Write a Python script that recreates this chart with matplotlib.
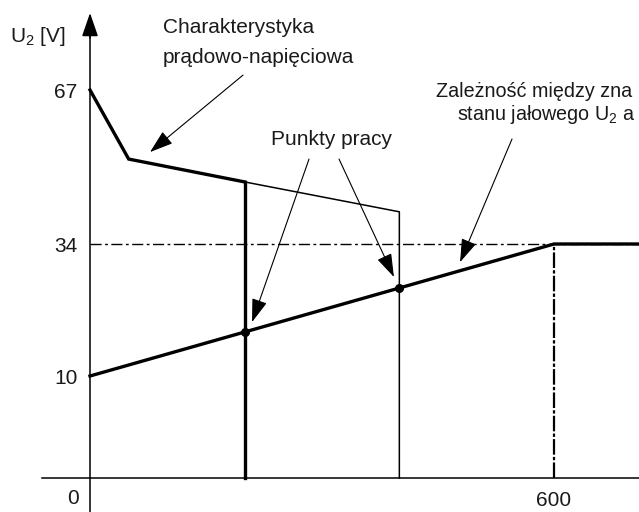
import numpy as np
import matplotlib.pyplot as plt
from matplotlib import font_manager

# charakterystyka pradowo-napieciowa (prad, napiecie)
char_i = [0, 50, 200]
char_u = [67, 52.2, 47.3]
char_thin_i = [200, 400, 400]
char_thin_u = [47.3, 40.9, 0]
char_drop_i = [200, 200]
char_drop_u = [47.3, 0]

# zaleznosc napiecia stanu jalowego U2
load_i = [0, 600, 710]
load_u = [10, 34, 34]

# punkty pracy
work_i = [200, 400]
work_u = [18, 26]

u_ticks = [10, 34, 67]
u_labels = ['10', '34', '67']
i_ticks = [600]
i_labels = ['600']

# os napiecia nie jest liniowa (rysunek schematyczny)
u_knots = [-20, 0, 10, 34, 67, 200]
pos_knots = [-204, 0, 102, 234, 388, 1009]

def fwd(v):
    return np.interp(v, u_knots, pos_knots)

def inv(p):
    return np.interp(p, pos_knots, u_knots)

names = {f.name for f in font_manager.fontManager.ttflist}
if 'Liberation Sans Narrow' in names:
    fam, fs = 'Liberation Sans Narrow', 17.5
else:
    fam, fs = 'Liberation Sans', 15
plt.rcParams['font.family'] = [fam, 'DejaVu Sans']
plt.rcParams['mathtext.fontset'] = 'custom'
plt.rcParams['mathtext.rm'] = fam
plt.rcParams['mathtext.default'] = 'regular'
tc = '#1a1a1a'

fig = plt.figure(figsize=(6.39, 5.12), dpi=100)
ax = fig.add_axes([0, 0, 1, 1])
ax.set_yscale('function', functions=(fwd, inv))
ax.set_xlim(-116.4, 709.9)
ax.set_ylim(inv(-34), inv(478))

for s in ['top', 'right']:
    ax.spines[s].set_visible(False)
ax.spines['left'].set_position(('data', 0))
ax.spines['bottom'].set_position(('data', 0))
ax.spines['left'].set_bounds(inv(-34), inv(450))
ax.spines['bottom'].set_bounds(-62, 709.9)
ax.spines['left'].set_linewidth(1.1)
ax.spines['bottom'].set_linewidth(1.1)

ax.set_yticks(u_ticks, u_labels)
ax.set_xticks(i_ticks, i_labels)
ax.yaxis.set_minor_locator(plt.NullLocator())
ax.tick_params(length=0, labelsize=fs, colors=tc)
ax.tick_params(axis='y', pad=9)
ax.tick_params(axis='x', pad=9)
ax.text(-14, inv(-20), '0', fontsize=fs, color=tc, ha='right', va='center')

# strzalka osi U2
ax.annotate('', xy=(0, inv(465)), xytext=(0, inv(440)),
            arrowprops=dict(arrowstyle='-|>,head_length=1.45,head_width=0.5',
                            lw=1.1, color='black', shrinkA=0, shrinkB=0,
                            mutation_scale=10))

# linie pomocnicze
ax.plot([0, 710], [34, 34], color='black', lw=1.0, ls=(0, (8, 2.5, 2, 2.5)))
ax.plot([600, 600], [0, 34], color='black', lw=1.6, ls=(0, (7, 1, 1.5, 1)))

ax.plot(char_i, char_u, color='black', lw=2.4, solid_joinstyle='miter')
ax.plot(char_drop_i, char_drop_u, color='black', lw=2.4)
ax.plot(char_thin_i, char_thin_u, color='black', lw=1.1)
ax.plot(load_i, load_u, color='black', lw=2.4, solid_joinstyle='miter')
ax.plot(work_i, work_u, 'o', color='black', ms=5.5)

ap = dict(arrowstyle='-|>,head_length=1.45,head_width=0.48', lw=0.8,
          color='black', shrinkA=0, shrinkB=0, mutation_scale=10)
ax.annotate('', xy=(77.6, 53.7), xytext=(197.9, 70.2), arrowprops=ap)
ax.annotate('', xy=(209.5, 19.8), xytext=(283.2, 52.2), arrowprops=ap)
ax.annotate('', xy=(393, 28.0), xytext=(322, 52.2), arrowprops=ap)
ax.annotate('', xy=(478.5, 30.7), xytext=(545.7, 56.5), arrowprops=ap)

ax.text(-103.5, 77.3, 'U$_2$ [V]', fontsize=fs, color=tc, ha='left', va='baseline')
ax.text(94.4, 79.2, 'Charakterystyka', fontsize=fs, color=tc, ha='left', va='baseline')
ax.text(94.4, 72.8, 'prądowo-napięciowa', fontsize=fs, color=tc, ha='left', va='baseline')
ax.text(234, 55.2, 'Punkty pracy', fontsize=fs, color=tc, ha='left', va='baseline')
ax.text(447, 65.5, 'Zależność między zna', fontsize=fs - 0.8, color=tc, ha='left', va='baseline')
ax.text(474, 60.6, 'stanu jałowego U$_2$ a', fontsize=fs - 0.8, color=tc, ha='left', va='baseline')

fig.savefig('out.png', dpi=100)
